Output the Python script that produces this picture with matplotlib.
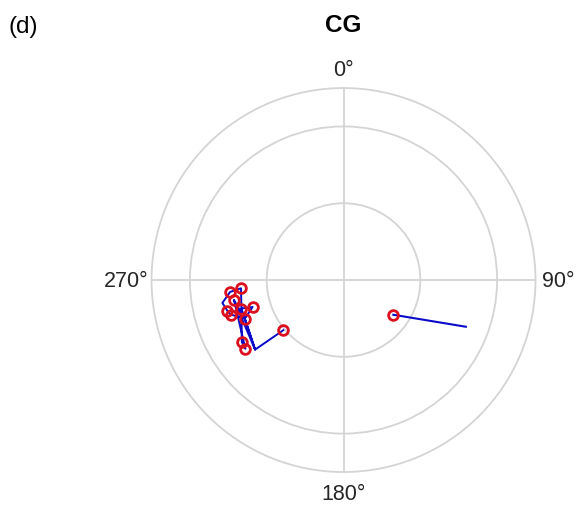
import numpy as np
import matplotlib.pyplot as plt

plt.rcParams['font.family'] = ['Liberation Sans', 'DejaVu Sans']

# CG positions (theta in degrees, clockwise from top; radius)
marker_theta = [264.0, 265.4, 259.5, 255.2, 253.0, 254.4, 253.5, 248.6, 238.7, 235.0, 230.2, 124.9]
marker_r = [2.97, 2.68, 2.90, 3.13, 3.07, 2.76, 2.47, 2.76, 3.10, 3.12, 2.04, 1.58]

# blue trajectory inside the cluster
path_theta = [230.2, 231.8, 259.5, 235.0, 238.7, 254.4, 265.4, 264.0, 259.3, 255.2,
              253.0, 248.6, 253.5, 254.4, 231.8, 248.6, 259.5]
path_r = [2.04, 2.93, 2.90, 3.12, 3.10, 2.76, 2.68, 2.97, 3.21, 3.13,
          3.07, 2.76, 2.47, 2.76, 2.93, 2.76, 2.90]

# separate segment on the right
seg_theta = [124.9, 110.9]
seg_r = [1.58, 3.41]

theta_ticks = [0, 90, 180, 270]
theta_labels = ['0°', '90°', '180°', '270°']

grid_col = '#d4d4d4'
txt_col = '#262626'

fig = plt.figure(figsize=(5.79, 5.10), dpi=100)
ax = fig.add_axes([0.2617, 0.0725, 0.6632, 0.7529], projection='polar')
ax.set_theta_zero_location('N')
ax.set_theta_direction(-1)

ax.plot(np.deg2rad(path_theta), path_r, color='#0a0ac8', lw=1.4, zorder=3)
ax.plot(np.deg2rad(seg_theta), seg_r, color='#0a0ac8', lw=1.5, zorder=3)
ax.plot(np.deg2rad(marker_theta), marker_r, 'o', ls='none', mfc='none',
        mec='#dc0f1e', mew=2.0, ms=7, zorder=4)

ax.set_rlim(0, 5)
ax.set_rticks([2, 4])
ax.set_yticklabels([])
ax.set_xticks(np.deg2rad(theta_ticks))
ax.set_xticklabels([])
ax.grid(True, color=grid_col, lw=1.3)
ax.spines['polar'].set_color(grid_col)
ax.spines['polar'].set_linewidth(1.3)

# theta labels placed just outside the outer ring
lab_r = [5.47, 5.17, 5.55, 5.09]
lab_ha = ['center', 'left', 'center', 'right']
for t, s, r, ha in zip(theta_ticks, theta_labels, lab_r, lab_ha):
    ax.text(np.deg2rad(t), r, s, fontsize=15.5, color=txt_col, ha=ha,
            va='center', clip_on=False)

fig.text(343 / 579, 1 - 25 / 510, 'CG', fontsize=17.5, fontweight='bold',
         ha='center', va='center', color='black')
fig.text(8 / 579, 1 - 27 / 510, '(d)', fontsize=17.5, ha='left', va='center',
         color='black')

fig.savefig('out.png', dpi=100)
